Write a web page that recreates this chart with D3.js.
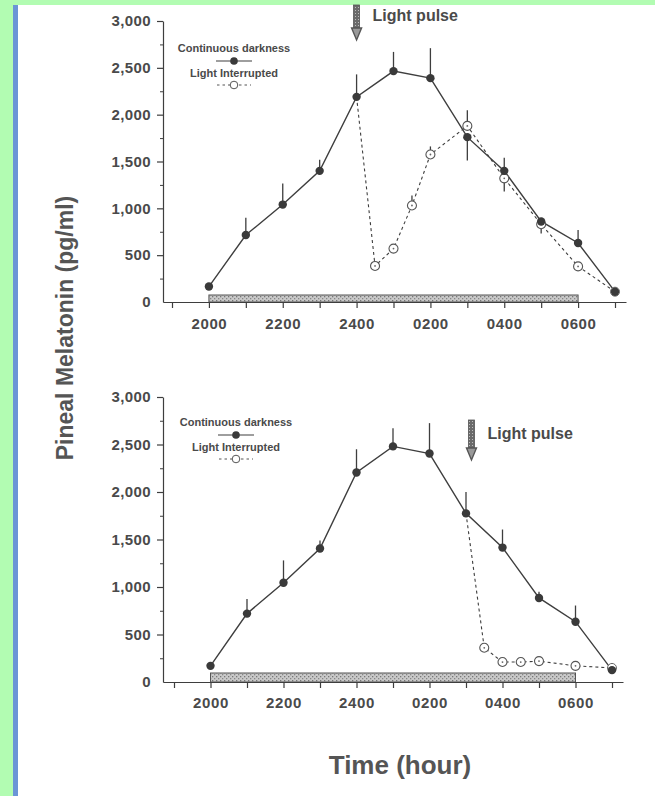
<!DOCTYPE html>
<html><head><meta charset="utf-8">
<script src="https://cdn.jsdelivr.net/npm/d3@7"></script>
<style>
html,body{margin:0;padding:0;background:#b2fcb2;}
svg{display:block;font-family:"Liberation Sans",Arial,Helvetica,sans-serif;}
</style></head>
<body>
<svg id="c" width="655" height="796"></svg>
<script>
// ---- data ----
const hours = [20,21,22,23,24,25,26,27,28,29,30,31];
const tickHours = [20,22,24,26,28,30];
const tickLabels = ["2000","2200","2400","0200","0400","0600"];
const minorHours = [19,21,23,25,27,29,31];
const yMajor = [0,500,1000,1500,2000,2500,3000];
const yMinor = [250,750,1250,1750,2250,2750];

const darkTop = [165,715,1040,1400,2190,2465,2390,1760,1400,860,630,110];
const darkTopErr = [null,900,1265,1520,2430,2670,2710,1510,1540,null,770,null];
const lightTopHours = [24,24.5,25,25.5,26,27,28,29,30,31];
const lightTop = [2190,385,570,1030,1575,1880,1320,830,380,110];
const lightTopErr = [null,null,null,1136,1661,2047,1180,730,null,null];

const darkBot = [170,720,1045,1405,2205,2480,2405,1775,1415,885,635,125];
const darkBotErr = [null,875,1280,1490,2450,2670,2725,2000,1605,950,805,null];
const lightBotHours = [27,27.5,28,28.5,29,30,31];
const lightBot = [1775,360,210,210,220,170,148];

const darkPeriod = [20,30];
const pulseTop = 24, pulseBot = 27.15;
const legendLabels = ["Continuous darkness","Light Interrupted"];

// ---- drawing ----
const svg = d3.select("#c");
svg.append("rect").attr("x",0).attr("y",0).attr("width",655).attr("height",796).attr("fill","#b2fcb2");
svg.append("rect").attr("x",18).attr("y",5).attr("width",637).attr("height",791).attr("fill","#ffffff");
svg.append("rect").attr("x",13).attr("y",5).attr("width",5).attr("height",791).attr("fill","#6b95d6");

const defs = svg.append("defs");
const pat = defs.append("pattern").attr("id","hatch").attr("patternUnits","userSpaceOnUse").attr("width",4).attr("height",4);
pat.append("rect").attr("width",4).attr("height",4).attr("fill","#c9c9c9");
pat.append("rect").attr("x",0).attr("y",0).attr("width",1.3).attr("height",1.3).attr("fill","#777");
pat.append("rect").attr("x",2).attr("y",2).attr("width",1.3).attr("height",1.3).attr("fill","#888");
const pat2 = defs.append("pattern").attr("id","shaft").attr("patternUnits","userSpaceOnUse").attr("width",3).attr("height",3);
pat2.append("rect").attr("width",3).attr("height",3).attr("fill","#6a6a6a");
pat2.append("rect").attr("x",1).attr("y",1).attr("width",1).attr("height",1).attr("fill","#bbb");

const ink = "#3e3e3e", txt = "#4a4a4a";

function panel(cfg){
  const g = svg.append("g");
  const x = d3.scaleLinear().domain([19,31]).range(cfg.xr);
  const y = d3.scaleLinear().domain([0,3000]).range(cfg.yr);
  const xa = x.copy().domain([x.invert(cfg.axL), x.invert(cfg.axR)]).range([cfg.axL, cfg.axR]);
  const y0 = y(0);

  // dark bar
  g.append("rect").attr("x",x(darkPeriod[0])).attr("y",y0-cfg.barH)
    .attr("width",x(darkPeriod[1])-x(darkPeriod[0])).attr("height",cfg.barH)
    .attr("fill","url(#hatch)").attr("stroke","#555").attr("stroke-width",1);

  // x axis
  const gx = g.append("g").attr("transform",`translate(0,${y0})`);
  gx.call(d3.axisBottom(xa).tickValues(tickHours.concat(minorHours)).tickSize(6).tickSizeOuter(0)
     .tickFormat(d=>{const i=tickHours.indexOf(d);return i>=0?tickLabels[i]:"";}));
  gx.select(".domain").attr("stroke",ink).attr("stroke-width",1.2);
  gx.selectAll(".tick line").attr("stroke",ink).attr("stroke-width",1.2);
  gx.selectAll(".tick text").attr("fill",txt).attr("font-size",15).attr("font-weight","bold")
    .attr("letter-spacing",0.6).attr("dy",null).attr("y",cfg.xLabDy);

  // y axis
  const ya = y.copy().range([y0, cfg.yr[1]]);
  const gy = g.append("g").attr("transform",`translate(${cfg.axL},0)`);
  gy.call(d3.axisLeft(y).tickValues(yMajor).tickSize(6).tickSizeOuter(0).tickFormat(d3.format(",")));
  gy.select(".domain").attr("stroke",ink).attr("stroke-width",1.2);
  gy.selectAll(".tick line").attr("stroke",ink).attr("stroke-width",1.2);
  gy.selectAll(".tick").filter(d=>d===0).select("line").remove();
  gy.selectAll(".tick text").attr("fill",txt).attr("font-size",15).attr("font-weight","bold")
    .attr("letter-spacing",0.4).attr("x",-12);
  const gym = g.append("g").attr("transform",`translate(${cfg.axL},0)`);
  gym.call(d3.axisLeft(y).tickValues(yMinor).tickSize(3).tickFormat(""));
  gym.select(".domain").remove();
  gym.selectAll(".tick line").attr("stroke",ink).attr("stroke-width",1);

  // error bars
  function errs(hs, vals, ends){
    g.append("g").selectAll("line").data(hs.map((h,i)=>({h,v:vals[i],e:ends[i]})).filter(d=>d.e!=null))
      .join("line").attr("x1",d=>x(d.h)).attr("x2",d=>x(d.h)).attr("y1",d=>y(d.v)).attr("y2",d=>y(d.e))
      .attr("stroke",ink).attr("stroke-width",1.3);
  }
  errs(hours, cfg.dark, cfg.darkErr);
  if(cfg.lightErr) errs(cfg.lightH, cfg.light, cfg.lightErr);

  const line = d3.line().x(d=>x(d[0])).y(d=>y(d[1]));
  // light interrupted dashed
  g.append("path").attr("d",line(cfg.lightH.map((h,i)=>[h,cfg.light[i]])))
    .attr("fill","none").attr("stroke",ink).attr("stroke-width",1.1).attr("stroke-dasharray","3,3");
  // continuous solid
  g.append("path").attr("d",line(hours.map((h,i)=>[h,cfg.dark[i]])))
    .attr("fill","none").attr("stroke",ink).attr("stroke-width",1.4);

  // open circles (skip first, shared with dark)
  const opens = cfg.lightH.map((h,i)=>[h,cfg.light[i]]).slice(1, cfg.lightH.length-1);
  const og = g.append("g").selectAll("g").data(opens).join("g")
    .attr("transform",d=>`translate(${x(d[0])},${y(d[1])})`);
  og.append("circle").attr("r",4.5).attr("fill","#fff").attr("stroke","#555").attr("stroke-width",1.1);
  og.append("circle").attr("r",0.9).attr("fill","#666");
  // last open circle (under filled)
  const lastO = [cfg.lightH[cfg.lightH.length-1], cfg.light[cfg.light.length-1]];
  g.append("circle").attr("cx",x(lastO[0])).attr("cy",y(lastO[1])).attr("r",4.5)
    .attr("fill","#fff").attr("stroke","#666").attr("stroke-width",1);

  // filled circles
  g.append("g").selectAll("circle").data(hours.map((h,i)=>[h,cfg.dark[i]])).join("circle")
    .attr("cx",d=>x(d[0])).attr("cy",d=>y(d[1])).attr("r",4.2).attr("fill","#3a3a3a");

  // legend
  const L = cfg.leg;
  g.append("text").attr("x",L.x).attr("y",L.y).attr("text-anchor","middle").attr("fill",txt)
    .attr("font-size",11).attr("font-weight","bold").text(legendLabels[0]);
  g.append("line").attr("x1",L.x-18).attr("x2",L.x+18).attr("y1",L.y+9).attr("y2",L.y+9)
    .attr("stroke",ink).attr("stroke-width",1.2);
  g.append("circle").attr("cx",L.x).attr("cy",L.y+9).attr("r",3.8).attr("fill","#3a3a3a");
  g.append("text").attr("x",L.x).attr("y",L.y+25).attr("text-anchor","middle").attr("fill",txt)
    .attr("font-size",11).attr("font-weight","bold").text(legendLabels[1]);
  g.append("line").attr("x1",L.x-17).attr("x2",L.x+17).attr("y1",L.y+33).attr("y2",L.y+33)
    .attr("stroke","#555").attr("stroke-width",1).attr("stroke-dasharray","2.5,3");
  g.append("circle").attr("cx",L.x).attr("cy",L.y+33).attr("r",3.8).attr("fill","#fff")
    .attr("stroke","#555").attr("stroke-width",1);

  // light pulse arrow
  const ax = x(cfg.pulse);
  g.append("rect").attr("x",ax-3).attr("y",cfg.arrowTop).attr("width",6).attr("height",cfg.arrowBot-12-cfg.arrowTop)
    .attr("fill","url(#shaft)").attr("stroke","#555").attr("stroke-width",0.8);
  g.append("path").attr("d",`M${ax-5},${cfg.arrowBot-12} L${ax+5},${cfg.arrowBot-12} L${ax},${cfg.arrowBot} Z`)
    .attr("fill","#999").attr("stroke","#555").attr("stroke-width",1.4);
  g.append("text").attr("x",ax+cfg.pulseDx).attr("y",cfg.pulseY).attr("fill",txt)
    .attr("font-size",16).attr("font-weight","bold").text("Light pulse");
}

panel({xr:[172,615], yr:[302,21], axL:163, axR:626, barH:7, xLabDy:27,
  dark:darkTop, darkErr:darkTopErr, lightH:lightTopHours, light:lightTop, lightErr:lightTopErr,
  leg:{x:234,y:52}, pulse:pulseTop, arrowTop:5, arrowBot:40, pulseDx:16, pulseY:21});
panel({xr:[174,612], yr:[682,397], axL:163, axR:623, barH:9, xLabDy:26,
  dark:darkBot, darkErr:darkBotErr, lightH:lightBotHours, light:lightBot, lightErr:null,
  leg:{x:236,y:426}, pulse:pulseBot, arrowTop:420, arrowBot:460, pulseDx:16, pulseY:439});

// axis titles
svg.append("text").attr("transform","translate(73,328) rotate(-90)").attr("text-anchor","middle")
  .attr("fill","#555").attr("font-size",23).attr("font-weight","bold").text("Pineal Melatonin (pg/ml)");
svg.append("text").attr("x",400).attr("y",774).attr("text-anchor","middle")
  .attr("fill","#555").attr("font-size",26).attr("font-weight","bold").text("Time (hour)");
</script>
</body></html>
